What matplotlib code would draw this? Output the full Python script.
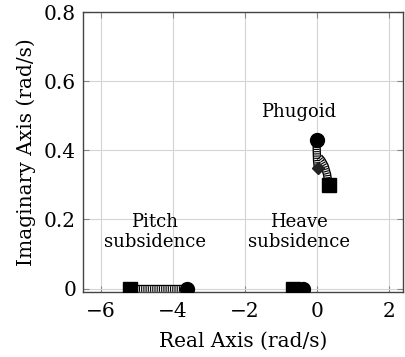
import matplotlib
matplotlib.use('Agg')
import matplotlib.pyplot as plt

plt.rcParams['font.family'] = ['DejaVu Serif']
plt.rcParams['lines.scale_dashes'] = False

# pitch subsidence track (real axis)
pitch_x = [-5.18, -3.62]
pitch_y = [0.0, 0.0]
# heave subsidence track
heave_x = [-0.66, -0.38]
heave_y = [0.0, 0.0]
# phugoid tracks
phug1_x = [0.0, 0.0, 0.01, 0.03]
phug1_y = [0.43, 0.40, 0.37, 0.35]
phug2_x = [0.06, 0.14, 0.22, 0.29, 0.33]
phug2_y = [0.38, 0.37, 0.355, 0.33, 0.30]

xticks = [-6, -4, -2, 0, 2]
yticks = [0, 0.2, 0.4, 0.6, 0.8]

fig = plt.figure(figsize=(4.05, 3.57), dpi=100)
ax = fig.add_axes([0.205, 0.182, 0.79, 0.784])

def track(xs, ys):
    ax.plot(xs, ys, color='black', lw=6, solid_capstyle='butt', zorder=2)
    ax.plot(xs, ys, color='#f0f0f0', lw=4, solid_capstyle='butt', zorder=3)
    ax.plot(xs, ys, color='black', lw=4, dashes=(0.8, 0.8), zorder=4)

track(pitch_x, pitch_y)
track(heave_x, heave_y)
track(phug1_x, phug1_y)
track(phug2_x, phug2_y)

# start (square) and end (circle) markers
ax.plot([pitch_x[0], heave_x[0], phug2_x[-1]], [pitch_y[0], heave_y[0], phug2_y[-1]],
        's', color='black', ms=10, zorder=6)
ax.plot([pitch_x[-1], heave_x[-1], phug1_x[0]], [pitch_y[-1], heave_y[-1], phug1_y[0]],
        'o', color='black', ms=10, zorder=6)
ax.plot([phug1_x[-1]], [phug1_y[-1]], 'D', color='#222222', ms=6, zorder=5)

fs = 13
ax.text(-0.5, 0.51, 'Phugoid', ha='center', va='center', fontsize=fs)
ax.text(-4.5, 0.165, 'Pitch\nsubsidence', ha='center', va='center', fontsize=fs, linespacing=1.15)
ax.text(-0.5, 0.165, 'Heave\nsubsidence', ha='center', va='center', fontsize=fs, linespacing=1.15)

ax.set_xlim(-6.5, 2.4)
ax.set_ylim(-0.01, 0.8)
ax.set_xticks(xticks)
ax.set_xticklabels(['\u22126', '\u22124', '\u22122', '0', '2'])
ax.set_yticks(yticks)
ax.set_yticklabels(['0', '0.2', '0.4', '0.6', '0.8'])
ax.tick_params(direction='in', top=True, right=True, labelsize=14.5, length=4,
               color='#888888', pad=5)
ax.tick_params(axis='x', pad=7)
ax.grid(True, color='#d4d4d4', lw=0.8)
ax.set_axisbelow(True)
for s in ax.spines.values():
    s.set_color('#444444')
    s.set_linewidth(1.0)

ax.set_xlabel('Real Axis (rad/s)', fontsize=14.5, labelpad=8)
ax.set_ylabel('Imaginary Axis (rad/s)', fontsize=14.5, labelpad=6)

fig.savefig('out.png', dpi=100)
